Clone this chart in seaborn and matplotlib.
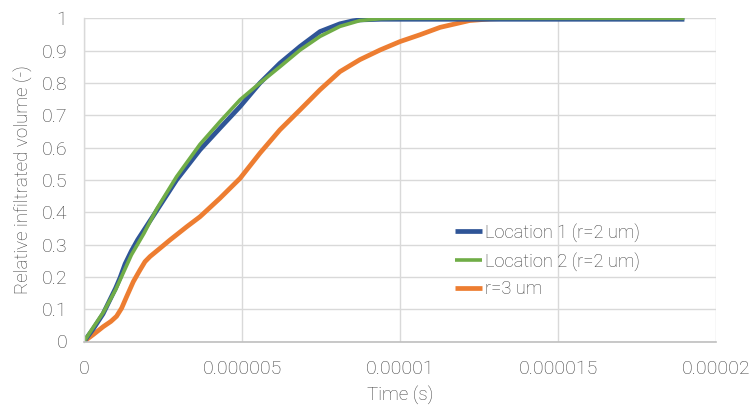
import matplotlib
matplotlib.use("Agg")
import matplotlib.pyplot as plt
import seaborn as sns
import pandas as pd

# ---- data (time in seconds, relative infiltrated volume) ----
t_loc1 = [0, 0.3e-6, 0.6e-6, 1.0e-6, 1.14e-6, 1.3e-6, 1.5e-6, 1.7e-6, 1.9e-6, 2.3e-6, 2.93e-6,
          3.67e-6, 4.3e-6, 4.94e-6, 5.57e-6, 6.2e-6, 6.84e-6, 7.47e-6, 8.1e-6, 8.5e-6, 8.73e-6,
          9.4e-6, 10e-6, 19e-6]
v_loc1 = [0, 0.04, 0.085, 0.165, 0.197, 0.24, 0.28, 0.315, 0.345, 0.405, 0.5,
          0.593, 0.66, 0.727, 0.80, 0.861, 0.913, 0.959, 0.983, 0.992, 0.995,
          0.997, 0.997, 0.997]

t_loc2 = [0, 0.3e-6, 0.61e-6, 1.0e-6, 1.5e-6, 1.9e-6, 2.3e-6, 2.93e-6, 3.67e-6, 4.3e-6,
          4.94e-6, 5.57e-6, 6.2e-6, 6.84e-6, 7.47e-6, 8.1e-6, 8.73e-6, 9.4e-6, 10e-6, 19e-6]
v_loc2 = [0, 0.045, 0.09, 0.16, 0.268, 0.335, 0.41, 0.51, 0.61, 0.68,
          0.748, 0.80, 0.85, 0.902, 0.944, 0.975, 0.993, 0.999, 1.0, 1.0]

t_r3 = [0, 0.3e-6, 0.61e-6, 0.85e-6, 1.03e-6, 1.19e-6, 1.35e-6, 1.56e-6, 1.77e-6, 1.93e-6,
        2.09e-6, 2.4e-6, 2.72e-6, 3.25e-6, 3.67e-6, 4.3e-6, 4.94e-6, 5.57e-6, 6.2e-6,
        6.84e-6, 7.47e-6, 8.1e-6, 8.73e-6, 9.37e-6, 10e-6, 10.63e-6, 11.27e-6, 12.2e-6,
        12.85e-6, 13.5e-6, 15e-6]
v_r3 = [0, 0.022, 0.046, 0.062, 0.078, 0.103, 0.139, 0.185, 0.221, 0.247,
        0.263, 0.288, 0.314, 0.355, 0.386, 0.443, 0.505, 0.583, 0.655,
        0.717, 0.779, 0.835, 0.872, 0.902, 0.928, 0.949, 0.972, 0.993,
        0.998, 1.0, 1.0]

series_names = ["Location 1 (r=2 um)", "Location 2 (r=2 um)", "r=3 um"]
x_ticks = [0, 0.000005, 0.00001, 0.000015, 0.00002]
x_ticklabels = ["0", "0.000005", "0.00001", "0.000015", "0.00002"]
y_ticks = [0, 0.1, 0.2, 0.3, 0.4, 0.5, 0.6, 0.7, 0.8, 0.9, 1.0]
y_ticklabels = ["0", "0.1", "0.2", "0.3", "0.4", "0.5", "0.6", "0.7", "0.8", "0.9", "1"]

df = pd.concat([
    pd.DataFrame({"t": t_loc1, "v": v_loc1, "s": series_names[0]}),
    pd.DataFrame({"t": t_loc2, "v": v_loc2, "s": series_names[1]}),
    pd.DataFrame({"t": t_r3, "v": v_r3, "s": series_names[2]}),
], ignore_index=True)

sns.set_style("white")
plt.rcParams["font.family"] = ["Roboto", "DejaVu Sans"]

FS_TICK = 14
FS_LAB = 13.5
FS_LEG = 13.2
TXT = "#404040"

fig = plt.figure(figsize=(7.49, 4.07), dpi=100)
ax = fig.add_axes([84 / 749, 1 - 341.5 / 407, 632 / 749, 323.2 / 407])

palette = {series_names[0]: "#2F5597", series_names[1]: "#70AD47", series_names[2]: "#ED7D31"}
widths = {series_names[0]: 3.4, series_names[1]: 2.6, series_names[2]: 3.4}
order = [series_names[2], series_names[0], series_names[1]]
for name in order:
    sub = df[df["s"] == name]
    sns.lineplot(data=sub, x="t", y="v", ax=ax, color=palette[name], lw=widths[name],
                 label=name, solid_joinstyle="round", solid_capstyle="butt", sort=False)

ax.set_xlim(0, 0.00002)
ax.set_ylim(0, 1)
ax.set_xticks(x_ticks)
ax.set_xticklabels(x_ticklabels)
ax.set_yticks(y_ticks)
ax.set_yticklabels(y_ticklabels)
ax.grid(True, color="#D9D9D9", lw=1)
ax.set_axisbelow(True)
for side in ["top", "right"]:
    ax.spines[side].set_visible(False)
ax.spines["left"].set_color("#D9D9D9")
ax.spines["bottom"].set_color("#BFBFBF")
ax.spines["left"].set_linewidth(1)
ax.spines["bottom"].set_linewidth(1.2)
ax.tick_params(axis="both", length=0, labelsize=FS_TICK, labelcolor=TXT)
ax.tick_params(axis="x", pad=13)
ax.tick_params(axis="y", pad=12)
for lab in ax.get_xticklabels() + ax.get_yticklabels():
    lab.set_fontweight("light")

ax.set_xlabel("Time (s)", fontsize=FS_LAB, color=TXT, fontweight="light", labelpad=6)
ax.set_ylabel("Relative infiltrated volume (-)", fontsize=FS_LAB, color=TXT,
              fontweight="light", labelpad=6)

handles, labels = ax.get_legend_handles_labels()
hmap = dict(zip(labels, handles))
leg = ax.legend([hmap[n] for n in series_names], series_names, loc="center left",
                bbox_to_anchor=(0.587, 0.25), frameon=False, borderaxespad=0, borderpad=0,
                handlelength=1.5, handletextpad=0.12, labelspacing=0.52,
                prop={"size": FS_LEG, "weight": "light"})
for txt in leg.get_texts():
    txt.set_color(TXT)

fig.savefig("out.png", dpi=100)
